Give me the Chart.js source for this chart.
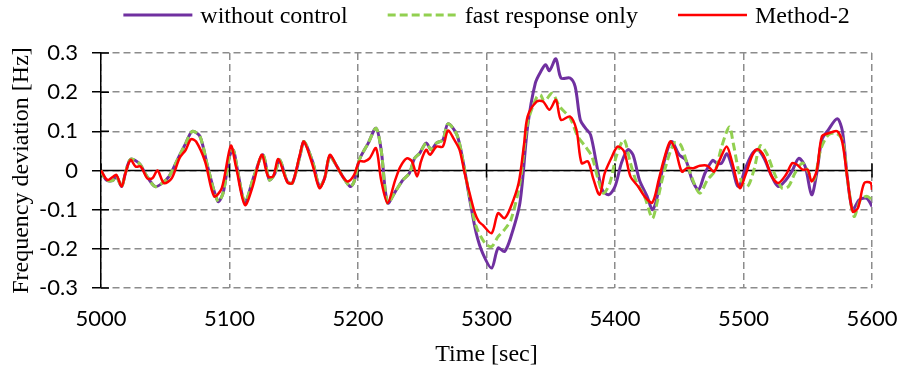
<!DOCTYPE html>
<html>
<head>
<meta charset="utf-8">
<script src="https://cdn.jsdelivr.net/npm/chart.js@4"></script>
<style>
  body { margin: 0; background: #fff; }
  canvas { display: block; }
</style>
</head>
<body>
<canvas id="freqChart" width="899" height="371"></canvas>
<script>
// time [sec] and frequency deviation [Hz]
const noCtrlTime = [5000,5004,5009,5012,5016,5019,5023,5030,5035,5042,5047,5053,5060,5066,5071,5077,5083,5091,5095,5100,5103,5106,5112,5119,5126,5131,5135,5139,5145,5149,5155,5158,5165,5170,5174,5178,5183,5188,5194,5197,5201,5208,5214,5218,5223,5229,5235,5240,5244,5248,5253,5257,5261,5266,5270,5277,5282,5287,5292,5297,5304,5309,5314,5319,5326,5332,5338,5343,5346,5349,5354,5358,5365,5369,5373,5377,5381,5386,5390,5395,5400,5405,5410,5414,5419,5425,5429,5432,5438,5444,5450,5455,5460,5465,5470,5476,5479,5483,5487,5491,5496,5502,5507,5511,5516,5522,5527,5533,5538,5543,5548,5553,5557,5561,5566,5573,5577,5581,5585,5590,5596,5600];
const noCtrlFreq = [0,-0.024,-0.026,-0.015,-0.041,-0.007,0.029,0.017,-0.011,-0.041,-0.034,-0.015,0.031,0.07,0.1,0.087,0.01,-0.079,-0.058,0.036,0.052,0.005,-0.08,-0.015,0.04,-0.024,-0.01,0.027,-0.028,-0.032,0.04,0.074,0.019,-0.041,-0.02,0.036,0.014,-0.015,-0.041,-0.028,0.027,0.07,0.108,0.053,-0.083,-0.054,-0.024,-0.007,0.031,0.044,0.07,0.053,0.07,0.078,0.119,0.091,0.019,-0.075,-0.16,-0.211,-0.249,-0.198,-0.207,-0.169,-0.083,0.112,0.223,0.257,0.27,0.255,0.285,0.236,0.236,0.214,0.129,0.108,0.091,0.01,-0.049,-0.062,-0.041,0.019,0.053,0.04,-0.024,-0.066,-0.1,-0.079,0.019,0.074,0.04,0.027,-0.024,-0.049,-0.007,0.026,0.019,0.019,0.043,0.01,-0.041,0.01,0.044,0.053,0.031,-0.015,-0.041,-0.024,0,0.031,0.01,-0.062,-0.007,0.078,0.104,0.132,0.1,-0.024,-0.1,-0.075,-0.071,-0.092];

const fastTime = [5000,5004,5009,5012,5016,5019,5023,5030,5035,5042,5047,5053,5060,5066,5071,5077,5083,5091,5095,5100,5103,5106,5112,5119,5126,5131,5135,5139,5145,5149,5155,5158,5165,5170,5174,5178,5183,5188,5194,5197,5201,5208,5214,5218,5223,5229,5235,5240,5244,5248,5253,5257,5261,5266,5270,5277,5282,5287,5292,5299,5304,5309,5314,5319,5326,5332,5339,5342,5345,5351,5357,5365,5371,5377,5382,5387,5391,5396,5401,5407,5412,5417,5423,5429,5432,5438,5446,5451,5456,5461,5466,5472,5478,5483,5489,5492,5498,5503,5508,5513,5518,5524,5530,5535,5540,5546,5551,5555,5560,5566,5572,5577,5581,5586,5591,5596,5600];
const fastFreq = [0,-0.024,-0.026,-0.015,-0.041,-0.007,0.029,0.017,-0.011,-0.041,-0.034,-0.015,0.031,0.07,0.1,0.087,0.01,-0.079,-0.058,0.036,0.052,0.005,-0.08,-0.015,0.04,-0.024,-0.01,0.027,-0.028,-0.032,0.04,0.074,0.019,-0.041,-0.02,0.036,0.014,-0.015,-0.041,-0.028,0.027,0.07,0.108,0.053,-0.083,-0.054,-0.024,-0.007,0.031,0.044,0.07,0.053,0.07,0.078,0.119,0.091,0.019,-0.07,-0.143,-0.186,-0.194,-0.169,-0.151,-0.126,-0.032,0.121,0.187,0.193,0.176,0.197,0.163,0.134,0.087,0.061,0.036,-0.024,-0.058,-0.032,0.036,0.078,0.019,-0.032,-0.066,-0.122,-0.092,-0.007,0.07,0.066,0.019,-0.028,-0.058,-0.024,0,0.061,0.111,0.07,-0.024,-0.041,0,0.063,0.044,-0.007,-0.045,-0.041,-0.007,0.019,-0.007,-0.024,0.053,0.091,0.095,0.078,-0.024,-0.117,-0.075,-0.066,-0.075];

const method2Time = [5000,5005,5009,5012,5016,5019,5023,5027,5031,5036,5040,5044,5049,5055,5061,5066,5070,5074,5081,5088,5094,5101,5105,5112,5118,5125,5130,5134,5138,5145,5149,5155,5158,5165,5170,5174,5178,5183,5188,5192,5197,5201,5205,5209,5214,5218,5223,5229,5233,5238,5242,5246,5249,5253,5256,5261,5266,5270,5275,5279,5283,5287,5291,5294,5297,5304,5309,5314,5319,5325,5329,5332,5339,5344,5349,5354,5358,5365,5370,5374,5379,5383,5388,5392,5397,5402,5407,5412,5418,5423,5429,5434,5438,5443,5447,5452,5456,5461,5466,5472,5477,5482,5487,5491,5497,5502,5507,5511,5516,5522,5527,5533,5538,5542,5546,5550,5553,5557,5561,5566,5573,5577,5581,5585,5589,5594,5599,5600];
const method2Freq = [0,-0.024,-0.017,-0.011,-0.041,-0.007,0.027,0.01,0.01,-0.02,-0.02,0,-0.032,-0.02,0.031,0.053,0.08,0.074,0.023,-0.066,-0.045,0.063,0.01,-0.088,-0.041,0.04,-0.015,-0.015,0.029,-0.03,-0.032,0.044,0.074,0.01,-0.045,-0.02,0.04,0.014,-0.015,-0.028,-0.011,0.023,0.023,0.031,0.057,-0.024,-0.083,-0.024,0.01,0.031,0.023,-0.015,0.023,0.053,0.04,0.061,0.061,0.102,0.078,0.053,-0.007,-0.06,-0.109,-0.13,-0.139,-0.16,-0.109,-0.122,-0.092,-0.032,0.061,0.138,0.176,0.176,0.155,0.18,0.129,0.138,0.104,0.019,0.023,-0.02,-0.062,-0.007,0.031,0.061,0.049,-0.015,-0.041,-0.066,-0.082,-0.024,0.027,0.074,0.053,-0.003,0.006,0.006,0.012,0.012,-0.003,0.031,0.061,0.023,-0.045,-0.007,0.04,0.054,0.036,-0.015,-0.032,-0.011,0.019,0.014,0.002,0.002,-0.028,0,0.087,0.095,0.1,0.07,-0.024,-0.105,-0.096,-0.032,-0.032,-0.049];

const seriesNames = ["without control", "fast response only", "Method-2"];
const xTicks = [5000, 5600, 100];   // min, max, step
const yTicks = [-0.3, 0.3, 0.1];

function toPoints(times, values) {
    return times.map((t, i) => ({ x: t, y: values[i] }));
}

// black zero axis with cross ticks, plus inner halves of the y ticks
const zeroAxis = {
    id: "zeroAxis",
    beforeDatasetsDraw(chart) {
        const { ctx, chartArea, scales } = chart;
        const y0 = scales.y.getPixelForValue(0);
        ctx.save();
        ctx.strokeStyle = "#000";
        ctx.lineWidth = 1.5;
        ctx.beginPath();
        ctx.moveTo(chartArea.left, y0);
        ctx.lineTo(chartArea.right, y0);
        scales.x.ticks.forEach(tk => {
            const px = scales.x.getPixelForValue(tk.value);
            ctx.moveTo(px, y0 - 7);
            ctx.lineTo(px, y0 + 7);
        });
        scales.y.ticks.forEach(tk => {
            const py = scales.y.getPixelForValue(tk.value);
            ctx.moveTo(chartArea.left, py);
            ctx.lineTo(chartArea.left + 8, py);
        });
        ctx.stroke();
        ctx.restore();
    }
};

// legend row centred over the plot area
const topLegend = {
    id: "topLegend",
    afterDraw(chart) {
        const { ctx, chartArea } = chart;
        const sets = chart.data.datasets;
        const lineLen = 69, gap = 8, spacing = 40;
        ctx.save();
        ctx.font = "24px 'Liberation Serif', 'Times New Roman', serif";
        const widths = sets.map(ds => ctx.measureText(ds.label).width);
        let total = widths.reduce((a, w) => a + lineLen + gap + w, 0) + spacing * (sets.length - 1);
        let x = (chartArea.left + chartArea.right) / 2 - total / 2;
        const y = 15;
        sets.forEach((ds, i) => {
            ctx.strokeStyle = ds.borderColor;
            ctx.lineWidth = ds.borderWidth;
            ctx.setLineDash(ds.borderDash || []);
            ctx.beginPath();
            ctx.moveTo(x, y);
            ctx.lineTo(x + lineLen, y);
            ctx.stroke();
            ctx.setLineDash([]);
            ctx.fillStyle = "#000";
            ctx.textBaseline = "alphabetic";
            ctx.fillText(ds.label, x + lineLen + gap, y + 8);
            x += lineLen + gap + widths[i] + spacing;
        });
        ctx.restore();
    }
};

const gridGray = "#8c8c8c";

new Chart(document.getElementById("freqChart"), {
    type: "line",
    data: {
        datasets: [
            {
                label: seriesNames[0],
                data: toPoints(noCtrlTime, noCtrlFreq),
                borderColor: "#7030A0",
                borderWidth: 3,
                order: 3
            },
            {
                label: seriesNames[1],
                data: toPoints(fastTime, fastFreq),
                borderColor: "#92D050",
                borderWidth: 3,
                borderDash: [8, 4],
                order: 2
            },
            {
                label: seriesNames[2],
                data: toPoints(method2Time, method2Freq),
                borderColor: "#FF0000",
                borderWidth: 2.5,
                order: 1
            }
        ]
    },
    options: {
        responsive: false,
        animation: false,
        elements: {
            point: { radius: 0 },
            line: { tension: 0.3, fill: false }
        },
        layout: { padding: { top: 53, right: 27, bottom: 0, left: 0 } },
        plugins: {
            legend: { display: false },
            tooltip: { enabled: false }
        },
        scales: {
            x: {
                type: "linear",
                min: xTicks[0],
                max: xTicks[1],
                ticks: {
                    stepSize: xTicks[2],
                    color: "#000",
                    padding: 18,
                    maxRotation: 0,
                    font: { family: "Lato", size: 22 },
                    callback: v => String(v)
                },
                grid: { color: gridGray, lineWidth: 1.5, drawTicks: false },
                border: { display: false, dash: [7, 4] },
                title: {
                    display: true,
                    text: "Time [sec]",
                    color: "#000",
                    font: { family: "'Liberation Serif', 'Times New Roman', serif", size: 24 },
                    padding: { top: 0, bottom: 2 }
                },
                afterFit: scale => {
                    scale.height = 371 - 288;
                    scale.paddingLeft = 0;
                    scale.paddingRight = 0;
                }
            },
            y: {
                min: yTicks[0],
                max: yTicks[1],
                ticks: {
                    stepSize: yTicks[2],
                    color: "#000",
                    padding: 14,
                    font: { family: "Lato", size: 22 },
                    callback: v => String(Number(v.toFixed(1)))
                },
                grid: { color: gridGray, lineWidth: 1.5, tickColor: "#000", tickLength: 9, tickWidth: 1.5 },
                border: { display: true, color: "#000", width: 1.5, dash: [7, 4] },
                title: {
                    display: true,
                    text: "Frequency deviation [Hz]",
                    color: "#000",
                    font: { family: "'Liberation Serif', 'Times New Roman', serif", size: 24 },
                    padding: { top: 7, bottom: 0 }
                },
                afterFit: scale => { scale.width = 101; }
            }
        }
    },
    plugins: [zeroAxis, topLegend]
});
</script>
</body>
</html>
